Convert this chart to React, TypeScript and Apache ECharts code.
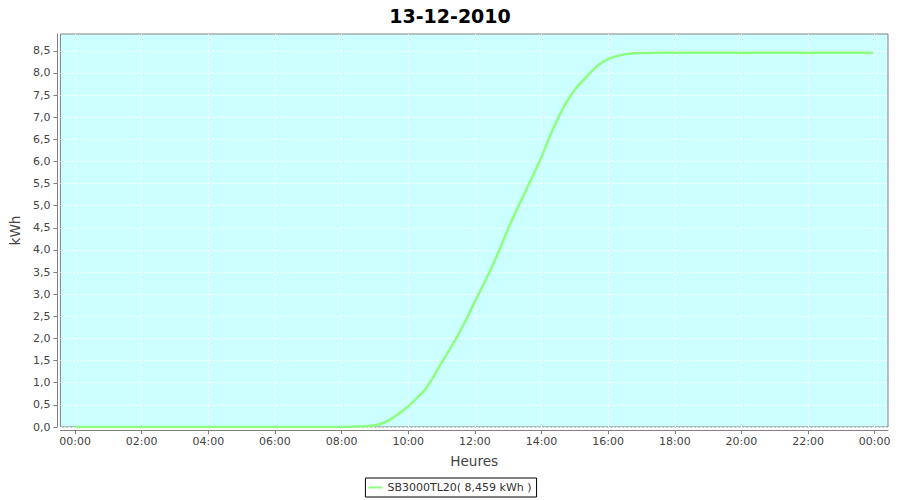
import React, { useEffect, useRef } from "react";
import * as echarts from "echarts";

const TITLE = "13-12-2010";
const SERIES_NAME = "SB3000TL20( 8,459 kWh )";
const X_NAME = "Heures";
const Y_NAME = "kWh";

const times: string[] = [
  "00:00", "04:00", "08:00", "08:30", "09:00", "09:15", "09:30", "09:45",
  "10:00", "10:15", "10:30", "10:45", "11:00", "11:15", "11:30", "11:45",
  "12:00", "12:15", "12:30", "12:45", "13:00", "13:15", "13:30", "13:45",
  "14:00", "14:15", "14:30", "14:45", "15:00", "15:15", "15:30", "15:45",
  "16:00", "16:15", "16:30", "16:45", "17:00", "17:30", "20:00", "23:57",
];
const energy: number[] = [
  0, 0, 0, 0.01, 0.04, 0.09, 0.19, 0.32,
  0.47, 0.65, 0.84, 1.13, 1.45, 1.76, 2.08, 2.45,
  2.83, 3.21, 3.6, 4.02, 4.48, 4.9, 5.29, 5.69,
  6.1, 6.57, 6.98, 7.34, 7.62, 7.83, 8.03, 8.2,
  8.31, 8.38, 8.42, 8.445, 8.452, 8.459, 8.459, 8.459,
];
const xTickHours: number[] = [0, 2, 4, 6, 8, 10, 12, 14, 16, 18, 20, 22, 24];
const yTicks: number[] = [0, 0.5, 1, 1.5, 2, 2.5, 3, 3.5, 4, 4.5, 5, 5.5, 6, 6.5, 7, 7.5, 8, 8.5];

const toHours = (t: string) => {
  const [h, m] = t.split(":").map(Number);
  return h + m / 60;
};

export default function App() {
  const ref = useRef<HTMLDivElement>(null);
  useEffect(() => {
    if (!ref.current) return;
    const chart = echarts.init(ref.current, undefined, { renderer: "svg" });
    const font = "DejaVu Sans";
    const data = times.map((t, i) => [toHours(t), energy[i]]);
    chart.setOption({
      animation: false,
      backgroundColor: "#ffffff",
      title: {
        text: TITLE,
        left: "center",
        top: 1,
        textStyle: { fontFamily: font, fontSize: 19, fontWeight: "bold", color: "#000000" },
      },
      legend: {
        bottom: 3,
        left: "center",
        borderColor: "#000000",
        borderWidth: 1,
        padding: [4, 5, 4, 3],
        itemWidth: 14,
        itemHeight: 10,
        textStyle: { fontFamily: font, fontSize: 11, color: "#333333" },
        data: [{ name: SERIES_NAME, icon: "path://M0,4 L14,4 L14,6 L0,6 Z" }],
      },
      grid: {
        left: 60,
        right: 12,
        top: 34,
        bottom: 73,
        show: true,
        backgroundColor: "#ccffff",
        borderColor: "#808080",
        borderWidth: 1,
      },
      xAxis: {
        type: "value",
        min: -0.44,
        max: 24.4,
        offset: 3,
        name: X_NAME,
        nameLocation: "middle",
        nameGap: 24,
        nameTextStyle: { fontFamily: font, fontSize: 13.6, color: "#444444" },
        axisLine: { show: true, onZero: false, lineStyle: { color: "#808080" } },
        axisTick: { show: true, length: 4, customValues: xTickHours, lineStyle: { color: "#808080" } },
        axisLabel: {
          customValues: xTickHours,
          margin: 6,
          fontFamily: font,
          fontSize: 11,
          color: "#444444",
          formatter: (v: number) => String(Math.round(v) % 24).padStart(2, "0") + ":00",
        },
        splitLine: { show: true, lineStyle: { color: "#ffffff", type: [2, 2], width: 1 } },
      },
      yAxis: {
        type: "value",
        min: 0,
        max: 8.88,
        offset: 3,
        name: Y_NAME,
        nameLocation: "middle",
        nameGap: 32,
        nameTextStyle: { fontFamily: font, fontSize: 13.6, color: "#444444" },
        axisLine: { show: true, onZero: false, lineStyle: { color: "#808080" } },
        axisTick: { show: true, length: 4, customValues: yTicks, lineStyle: { color: "#808080" } },
        axisLabel: {
          customValues: yTicks,
          margin: 7,
          fontFamily: font,
          fontSize: 11,
          color: "#444444",
          formatter: (v: number) => v.toFixed(1).replace(".", ","),
        },
        splitLine: { show: true, lineStyle: { color: "#ffffff", type: [2, 2], width: 1 } },
      },
      series: [
        {
          name: SERIES_NAME,
          type: "line",
          data,
          symbol: "none",
          smooth: 0.3,
          lineStyle: { color: "#8cff80", width: 2.5 },
          itemStyle: { color: "#8cff80" },
        },
      ],
    });
    return () => chart.dispose();
  }, []);
  return (
    <div
      ref={ref}
      style={{ width: 900, height: 500, position: "fixed", left: 0, top: 0 }}
    />
  );
}
